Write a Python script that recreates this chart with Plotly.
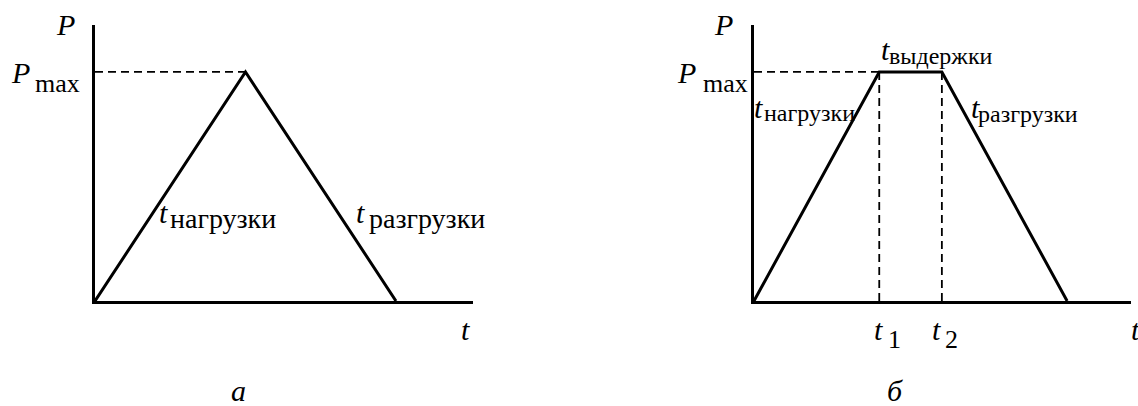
import plotly.graph_objects as go

# ---- data ----
# Panel a: triangular load cycle (loading then unloading)
t_a = [0, 5, 10]
P_a = [0, 10, 0]
# Panel б: trapezoidal cycle (loading, hold, unloading)
t_b = [0, 4, 6, 10]
P_b = [0, 10, 10, 0]
P_max = 10
t1, t2 = 4, 6

W, H = 1138, 406
FONT = "Liberation Serif"

fig = go.Figure()

line_style = dict(color="black", width=3)
dash_style = dict(color="black", width=1.8, dash="8px,5px")

# panel a
fig.add_trace(go.Scatter(x=[0, t_a[1]], y=[P_max, P_max], mode="lines", line=dash_style,
                         xaxis="x", yaxis="y", cliponaxis=False, hoverinfo="skip"))
fig.add_trace(go.Scatter(x=t_a, y=P_a, mode="lines", line=line_style,
                         xaxis="x", yaxis="y", cliponaxis=False, hoverinfo="skip"))

# panel б
fig.add_trace(go.Scatter(x=[0, t1], y=[P_max, P_max], mode="lines", line=dash_style,
                         xaxis="x2", yaxis="y2", cliponaxis=False, hoverinfo="skip"))
fig.add_trace(go.Scatter(x=[t1, t1], y=[0, P_max], mode="lines", line=dash_style,
                         xaxis="x2", yaxis="y2", cliponaxis=False, hoverinfo="skip"))
fig.add_trace(go.Scatter(x=[t2, t2], y=[0, P_max], mode="lines", line=dash_style,
                         xaxis="x2", yaxis="y2", cliponaxis=False, hoverinfo="skip"))
fig.add_trace(go.Scatter(x=t_b, y=P_b, mode="lines", line=line_style,
                         xaxis="x2", yaxis="y2", cliponaxis=False, hoverinfo="skip"))

ax_common = dict(showline=True, linecolor="black", linewidth=2.5, showgrid=False,
                 zeroline=False, showticklabels=False, ticks="")

fig.update_layout(
    width=W, height=H, margin=dict(l=0, r=0, t=0, b=0),
    paper_bgcolor="white", plot_bgcolor="white", showlegend=False,
    font=dict(family=FONT, color="black"),
    xaxis=dict(domain=[95 / W, 473 / W], range=[0, 12.56], anchor="y", **ax_common),
    yaxis=dict(domain=[105 / H, 381 / H], range=[0, 12.05], anchor="x", **ax_common),
    xaxis2=dict(domain=[754 / W, 1131 / W], range=[0, 12.04], anchor="y2", **ax_common),
    yaxis2=dict(domain=[105 / H, 381 / H], range=[0, 12.05], anchor="x2", **ax_common),
)


def label(text, left, baseline, size, italic=False):
    txt = f"<i>{text}</i>" if italic else text
    cy = baseline - 0.3375 * size
    fig.add_annotation(text=txt, x=left / W, y=1 - cy / H, xref="paper", yref="paper",
                       xanchor="left", yanchor="middle", showarrow=False,
                       font=dict(family=FONT, size=size, color="black"))


# panel a labels
label("P", 54, 35, 30, True)
label("P", 9, 83, 30, True)
label("max", 33, 92, 26)
label("t", 157, 223, 30, True)
label("нагрузки", 168, 228, 28)
label("t", 354, 223, 30, True)
label("разгрузки", 367, 228, 28)
label("t", 459, 340, 30, True)
label("a", 229, 401, 30, True)

# panel б labels
label("P", 712, 35, 30, True)
label("P", 675, 83, 30, True)
label("max", 701, 92, 26)
label("t", 879, 60, 30, True)
label("выдержки", 887, 64, 24)
label("t", 752, 118, 30, True)
label("нагрузки", 762, 121, 24)
label("t", 969, 118, 30, True)
label("разгрузки", 976, 122, 24)
label("t", 872, 340, 30, True)
label("1", 886, 348, 26)
label("t", 930, 340, 30, True)
label("2", 943, 348, 26)
label("t", 1129, 340, 30, True)
label("б", 885, 401, 30, True)

post = """
document.body.style.margin='0';
document.body.style.overflow='hidden';
var gd = document.getElementById('{plot_id}');
function fixFonts(){
  var els = gd.querySelectorAll('text.annotation-text, text.annotation-text tspan');
  for (var i = 0; i < els.length; i++) {
    els[i].style.fontFamily = "'Liberation Serif', 'Times New Roman', serif";
  }
}
fixFonts();
setTimeout(fixFonts, 0);
setTimeout(fixFonts, 100);
if (gd.on) { gd.on('plotly_afterplot', fixFonts); }
"""

fig.write_html("out.html", config={"displayModeBar": False}, post_script=post)
